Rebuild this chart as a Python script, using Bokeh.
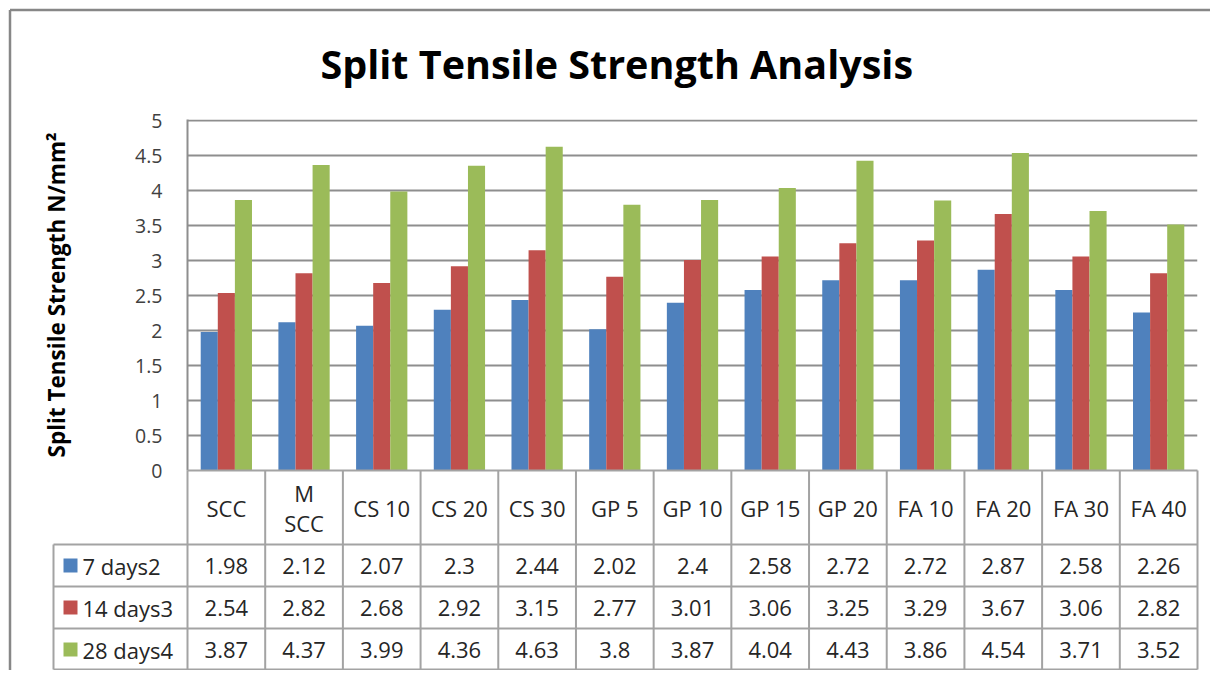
from bokeh.plotting import figure
from bokeh.models import Range1d, FixedTicker, CustomJSTickFormatter, Title, ColumnDataSource
from bokeh.embed import file_html
from bokeh.resources import INLINE
from bokeh.core.properties import value

# ---------------- data ----------------
categories = ["SCC", "M\nSCC", "CS 10", "CS 20", "CS 30", "GP 5", "GP 10",
              "GP 15", "GP 20", "FA 10", "FA 20", "FA 30", "FA 40"]
series_names = ["7 days2", "14 days3", "28 days4"]
days7 = [1.98, 2.12, 2.07, 2.3, 2.44, 2.02, 2.4, 2.58, 2.72, 2.72, 2.87, 2.58, 2.26]
days14 = [2.54, 2.82, 2.68, 2.92, 3.15, 2.77, 3.01, 3.06, 3.25, 3.29, 3.67, 3.06, 2.82]
days28 = [3.87, 4.37, 3.99, 4.36, 4.63, 3.8, 3.87, 4.04, 4.43, 3.86, 4.54, 3.71, 3.52]
y_ticks = [0, 0.5, 1, 1.5, 2, 2.5, 3, 3.5, 4, 4.5, 5]
title_text = "Split Tensile Strength Analysis"
y_label = "Split Tensile Strength N/mm\u00b2"

# ---------------- style / layout ----------------
colors = ["#4F81BD", "#C0504D", "#9BBB59"]
series = [days7, days14, days28]
FONT = "Open Sans"
GRID = "#8E8E8E"
TABLE_LINE = "#A3A3A3"
BORDER = "#878787"
TXT = "#262626"

n = len(categories)
W, H = 1210, 670
FL, FR = 187, 1197           # frame left / right in canvas px
FT_, FB_ = 119, 470          # frame top / bottom in canvas px
Y_END = 5.02
unit = (FR - FL) / n                  # px per category
ppu = (FB_ - FT_) / Y_END             # px per y unit

p = figure(width=W, height=H, x_range=Range1d(0, n), y_range=Range1d(0, Y_END),
           output_backend="svg", toolbar_location=None,
           min_border_left=FL, min_border_right=W - FR,
           min_border_top=FT_, min_border_bottom=H - FB_)
p.xaxis.visible = False
p.xgrid.visible = False
p.outline_line_color = None
p.background_fill_color = "white"
p.border_fill_color = "white"

p.title = Title(text=title_text, align="left", offset=133, standoff=58,
                text_font=FONT, text_font_size="39.5px", text_font_style="bold",
                text_color="black")

yax = p.yaxis[0]
yax.ticker = FixedTicker(ticks=y_ticks)
yax.formatter = CustomJSTickFormatter(code="return String(tick)")
yax.major_tick_in = 0
yax.major_tick_out = 0
yax.minor_tick_in = 0
yax.minor_tick_out = 0
yax.axis_line_color = GRID
yax.axis_line_width = 2
yax.major_label_text_font = FONT
yax.major_label_text_font_size = "19.5px"
yax.major_label_text_color = "#404040"
yax.major_label_standoff = 25
yax.axis_label = y_label
yax.axis_label_text_font = FONT
yax.axis_label_text_font_size = "22.5px"
yax.axis_label_text_font_style = "bold"
yax.axis_label_text_color = "black"
yax.axis_label_standoff = 60

p.ygrid.ticker = FixedTicker(ticks=y_ticks)
p.ygrid.grid_line_color = GRID
p.ygrid.grid_line_width = 2

bar_w = 0.22
offsets = [-bar_w, 0.0, bar_w]
for vals, col, off in zip(series, colors, offsets):
    src = ColumnDataSource(dict(x=[i + 0.5 + off for i in range(n)], top=vals))
    p.vbar(x="x", top="top", bottom=0, width=bar_w, source=src,
           fill_color=col, line_color=None)

# ---------------- data table below the plot area ----------------
def ypx(off):      # pixel offset below the value axis -> y data
    return -off / ppu

def xpx(off):      # pixel offset from the left of the plot area -> x data
    return off / unit

header_h, row_h = 74, 42
leg_left = xpx(-134)
row_tops = [header_h + k * row_h for k in range(len(series))]
table_bottom = header_h + len(series) * row_h - 1

hx0 = [0] + [leg_left] * (len(series) + 1)
hy = [ypx(v) for v in [0] + row_tops + [table_bottom]]
p.segment(x0=hx0, y0=hy, x1=[n] * len(hy), y1=hy, line_color=TABLE_LINE,
          line_width=2, level="overlay")
vx = list(range(n + 1)) + [leg_left]
vy0 = [ypx(0)] * (n + 1) + [ypx(header_h)]
p.segment(x0=vx, y0=vy0, x1=vx, y1=[ypx(table_bottom)] * len(vx),
          line_color=TABLE_LINE, line_width=2, level="overlay")

p.text(x=[i + 0.5 for i in range(n)], y=[ypx(header_h / 2)] * n, text=categories,
       text_align="center", text_baseline="middle", text_font=value(FONT),
       text_font_size="22px", text_color=TXT, text_line_height=1.0, level="overlay")

key = 14
for k, (vals, col, name) in enumerate(zip(series, colors, series_names)):
    ycp = row_tops[k] + row_h / 2
    yc = ypx(ycp)
    p.text(x=[i + 0.5 for i in range(n)], y=[yc] * n, text=[str(v) for v in vals],
           text_align="center", text_baseline="middle", text_font=value(FONT),
           text_font_size="22px", text_color=TXT, level="overlay")
    p.quad(left=[leg_left + xpx(10)], right=[leg_left + xpx(10 + key)],
           top=[ypx(ycp - key / 2)], bottom=[ypx(ycp + key / 2)],
           fill_color=col, line_color=None, level="overlay")
    p.text(x=[leg_left + xpx(29)], y=[yc], text=[name], text_align="left",
           text_baseline="middle", text_font=value(FONT), text_font_size="22px",
           text_color=TXT, level="overlay")

# outer chart border (top and left edges; the rest lies beyond the window)
bx = xpx(-FL + 9.5)
by = Y_END + (FT_ - 9.5) / ppu
p.segment(x0=[bx, bx], y0=[by, by], x1=[xpx(W - FL + 20), bx], y1=[by, ypx(H)],
          line_color=BORDER, line_width=2.5, level="overlay")

open("out.html", "w").write(file_html(p, INLINE))
